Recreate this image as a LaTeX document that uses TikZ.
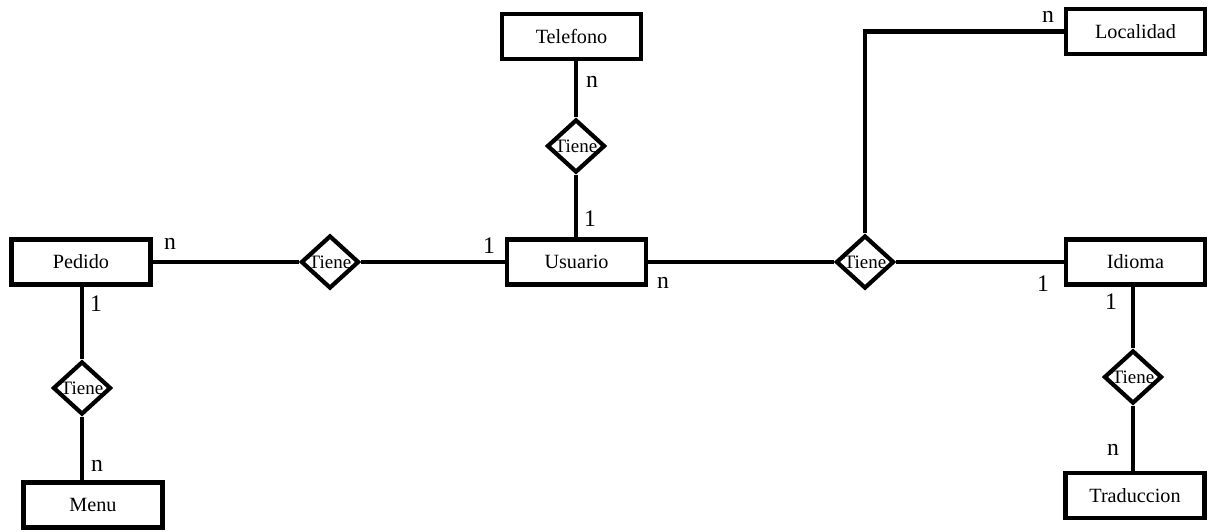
\documentclass[tikz,border=0pt]{standalone}
\usepackage{fontspec}
\setmainfont{Liberation Serif}
\usepackage{tikz}
\usetikzlibrary{shapes.geometric,positioning}

\begin{document}
\begin{tikzpicture}[
    x=0.02cm, y=-0.02cm,
    ent/.style={draw, line width=2.4pt, minimum width=2.78cm, minimum height=0.9cm,
                inner sep=0pt, font=\fontsize{11.5}{13}\selectfont},
    rel/.style={draw, diamond, line width=2.4pt, minimum width=1.16cm, minimum height=1.06cm,
                inner sep=0pt, font=\fontsize{10.8}{12}\selectfont},
    card/.style={font=\fontsize{13.5}{15}\selectfont, inner sep=0pt},
    lnk/.style={line width=2.4pt},
  ]
  \useasboundingbox (0,0) rectangle (1212,531);

  % Entities
  \node[ent] (ped) at (81,262) {Pedido};
  \node[ent] (menu) at (93,505) {Menu};
  \node[ent] (tel) at (571.5,36.5) {Telefono};
  \node[ent] (usu) at (576.5,262) {Usuario};
  \node[ent] (loc) at (1135.5,31.5) {Localidad};
  \node[ent] (idi) at (1135.5,262) {Idioma};
  \node[ent] (tra) at (1135,495.5) {Traduccion};

  % Relationships
  \node[rel] (rpu) at (330,262) {\makebox[0pt]{Tiene}};
  \node[rel] (rpm) at (82,388) {\makebox[0pt]{Tiene}};
  \node[rel] (rtu) at (576,146) {\makebox[0pt]{Tiene}};
  \node[rel] (rui) at (865,262) {\makebox[0pt]{Tiene}};
  \node[rel] (rit) at (1133,377) {\makebox[0pt]{Tiene}};

  % Links
  \draw[lnk] (ped) -- (rpu) -- (usu);
  \draw[lnk] (rpm |- ped.south) -- (rpm) -- (rpm |- menu.north);
  \draw[lnk] (rtu |- tel.south) -- (rtu) -- (rtu |- usu.north);
  \draw[lnk] (usu) -- (rui) -- (idi);
  \draw[lnk] (rui.north) |- (loc.west);
  \draw[lnk] (rit |- idi.south) -- (rit) -- (rit |- tra.north);

  % Cardinalities
  \node[card] (c1) at (170,244) {n};
  \node[card] (c2) at (489,246) {1};
  \node[card] (c3) at (96,304) {1};
  \node[card] (c4) at (97,466) {n};
  \node[card] (c5) at (592,82) {n};
  \node[card] (c6) at (590,219) {1};
  \node[card] (c7) at (663,283) {n};
  \node[card] (c8) at (1048,17) {n};
  \node[card] (c9) at (1043,284) {1};
  \node[card] (c10) at (1111,302) {1};
  \node[card] (c11) at (1113,450) {n};
\end{tikzpicture}
\end{document}
